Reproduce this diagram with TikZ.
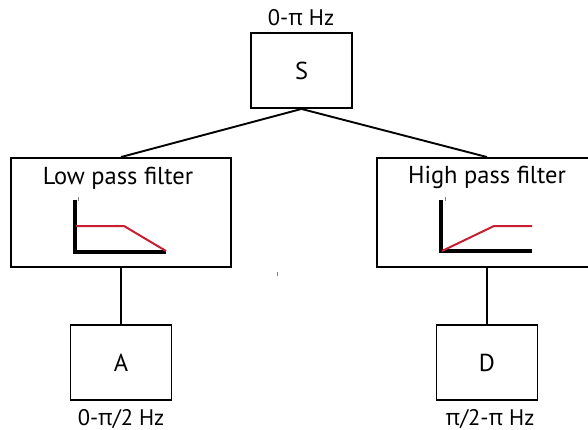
\documentclass[tikz,border=0pt]{standalone}
\usepackage{fontspec}
\setmainfont{PT Sans}
\newfontfamily\grkfont{Open Sans}
\newcommand{\pisym}{{\grkfont π}}
\usetikzlibrary{positioning}

\definecolor{respred}{RGB}{200,30,50}

\begin{document}
\begin{tikzpicture}[x=1pt, y=-1pt,
  box/.style={draw, line width=1.9pt, minimum width=101pt, minimum height=75pt,
    inner sep=0pt, font=\fontsize{24.5}{28}\selectfont},
  filterbox/.style={box, minimum width=220pt, minimum height=109pt},
  title/.style={anchor=base, inner sep=0pt, font=\fontsize{24.5}{28}\selectfont},
  freq/.style={anchor=base, inner sep=0pt, font=\fontsize{22.5}{26}\selectfont},
  conn/.style={line width=1.9pt},
  axis/.style={line width=4pt},
  resp/.style={respred, line width=2pt}]
  \clip (0,0) rectangle (588,430);

  % boxes
  \node[box] (s) at (301.5,70.5) {S};
  \node[filterbox] (lp) at (121,212.5) {};
  \node[filterbox] (hp) at (487,212.5) {};
  \node[box] (a) at (121,362.5) {A};
  \node[box] (d) at (487,362.5) {D};

  \node[title] (lptitle) at (118,185) {Low pass filter};
  \node[title] (hptitle) at (487,184) {High pass filter};

  % frequency bands
  \node[freq] (sband) at (301,26) {0-\pisym\ Hz};
  \node[freq] (aband) at (121,425) {0-\pisym/2 Hz};
  \node[freq] (dband) at (490,425) {\pisym/2-\pisym\ Hz};

  \draw[conn] (s.south) -- (lp.north);
  \draw[conn] (s.south) -- (hp.north);
  \draw[conn] (lp.south) -- (a.north);
  \draw[conn] (hp.south) -- (d.north);

  % low pass response
  \draw[axis] (75,200) -- (75,252) -- (166,252);
  \draw[resp] (76,226) -- (124,226) -- (166,251);
  \draw[gray, line width=0.6pt] (78,197) -- (78,201);

  % high pass response
  \draw[axis] (441,200) -- (441,251) -- (532,251);
  \draw[resp] (442,251) -- (494,226) -- (532,226);
  \draw[gray, line width=0.6pt] (445,197) -- (445,201);

  \draw[gray, line width=0.8pt] (277,272) -- (277,276);
\end{tikzpicture}
\end{document}
